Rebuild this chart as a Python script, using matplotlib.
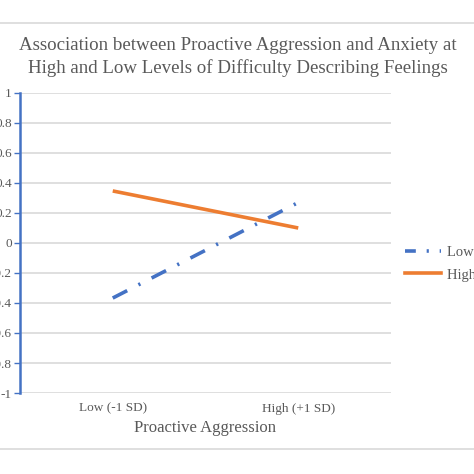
import matplotlib
matplotlib.use("Agg")
import matplotlib.pyplot as plt
from matplotlib.lines import Line2D

categories = ["Low (-1 SD)", "High (+1 SD)"]
low_ddf = [-0.367, 0.27]
high_ddf = [0.347, 0.10]
series_labels = ["Low (-1 SD)", "High (+1 SD)"]
yticks = [1, 0.8, 0.6, 0.4, 0.2, 0, -0.2, -0.4, -0.6, -0.8, -1]
ytick_labels = ["1", "0.8", "0.6", "0.4", "0.2", "0", "-0.2", "-0.4", "-0.6", "-0.8", "-1"]

W = H = 474
fig = plt.figure(figsize=(4.74, 4.74), dpi=100)
plt.rcParams['font.family'] = ['Liberation Serif', 'DejaVu Serif']
txt = '#595959'

# axes: x 20..391, y 93..393 (pixels from top)
ax = fig.add_axes([20 / W, 1 - 393 / H, (391 - 20) / W, (393 - 93) / H])
x = [0, 1]
ax.plot(x, low_ddf, color='#4472C4', lw=2.6, dashes=(4.5, 3.5, 0.6, 3.5), dash_capstyle='butt')
ax.plot(x, high_ddf, color='#ED7D31', lw=2.6, solid_capstyle='butt')
ax.set_xlim(-0.5, 1.5)
ax.set_ylim(-1, 1)
ax.set_yticks(yticks)
ax.set_yticklabels(ytick_labels)
ax.set_xticks(x)
ax.set_xticklabels(categories)
for s in ['top', 'right', 'bottom']:
    ax.spines[s].set_visible(False)
ax.spines['left'].set_color('#4472C4')
ax.spines['left'].set_linewidth(1.8)
ax.tick_params(axis='y', colors='#4472C4', length=4, width=1, labelcolor=txt, labelsize=9.5, pad=2)
ax.tick_params(axis='x', length=0, labelcolor=txt, labelsize=9.5, pad=7)
ax.grid(axis='y', color='#d9d9d9', lw=1.2)
ax.set_axisbelow(True)
ax.set_xlabel("Proactive Aggression", fontsize=12, color=txt, labelpad=4)

fig.text(0.5 * (22 + 453) / W, 1 - 45 / H, "Association between Proactive Aggression and Anxiety at",
         ha='center', va='center', fontsize=13.6, color=txt)
fig.text(0.5 * (22 + 453) / W, 1 - 68 / H, "High and Low Levels of Difficulty Describing Feelings",
         ha='center', va='center', fontsize=13.6, color=txt)

# legend
handles = [Line2D([], [], color='#4472C4', lw=2.6, dashes=(3.0, 3.0, 0.6, 3.0)),
           Line2D([], [], color='#ED7D31', lw=2.6)]
fig.legend(handles, series_labels, loc='upper left', bbox_to_anchor=(405 / W, 1 - 246 / H),
           frameon=False, fontsize=10.5, handlelength=2.5, handletextpad=0.4,
           labelcolor=txt, labelspacing=0.6, borderaxespad=0, borderpad=0)

# chart frame border lines
fig.add_artist(Line2D([0, 1], [1 - 23 / H, 1 - 23 / H], color='#d9d9d9', lw=1.2, transform=fig.transFigure))
fig.add_artist(Line2D([0, 1], [1 - 449 / H, 1 - 449 / H], color='#d9d9d9', lw=1.2, transform=fig.transFigure))

fig.savefig("out.png", dpi=100)
